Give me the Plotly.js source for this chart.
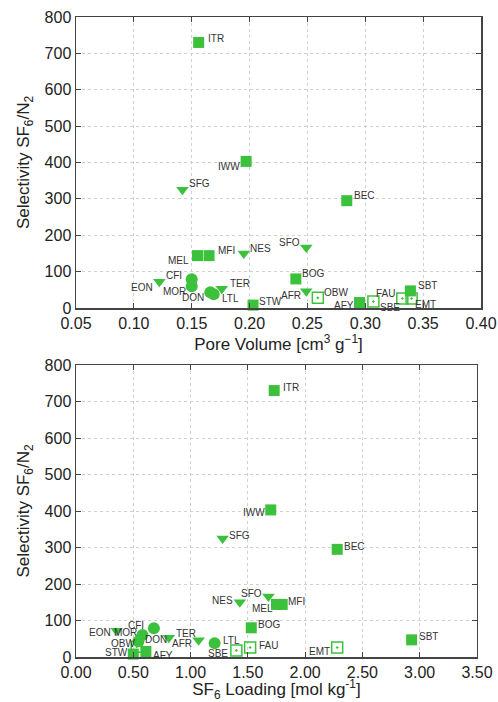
<!DOCTYPE html>
<html>
<head>
<meta charset="utf-8">
<script src="https://cdn.plot.ly/plotly-3.0.1.min.js"></script>
<style>html,body{margin:0;padding:0;background:#fff;}#chart{width:498px;height:702px;}</style>
</head>
<body>
<div id="chart"></div>
<script>
// Data
var names       = ['ITR','IWW','SFG','BEC','SFO','NES','MEL','MFI','BOG','CFI','EON','MOR','DON','TER','LTL','STW','AFR','OBW','AFY','SBE','FAU','EMT','SBT'];
var poreVolume  = [0.156,0.197,0.142,0.284,0.249,0.195,0.155,0.165,0.240,0.150,0.122,0.150,0.166,0.176,0.169,0.203,0.249,0.259,0.295,0.307,0.332,0.340,0.339];
var sf6Loading  = [1.73,1.70,1.28,2.28,1.68,1.43,1.75,1.80,1.53,0.68,0.355,0.58,0.545,0.81,1.21,0.50,1.07,0.53,0.61,1.40,1.52,2.28,2.93];
var selectivity = [730,403,325,295,166,150,144,144,80,79,72,60,43,53,38,8,46,28,15,18,26,26,47];
var markerKind  = ['sq','sq','tri','sq','tri','tri','sq','sq','sq','circ','tri','circ','circ','tri','circ','sq','tri','open','sq','open','open','open','sq'];

// label offsets in pixels [dx, dy(down)] (style)
var offTop = {ITR:[17,-4],IWW:[-17,5],SFG:[17,-6],BEC:[18,-5],SFO:[-17,-5],NES:[17,-5],MEL:[-19,5],MFI:[17,-5],BOG:[17,-5],CFI:[-18,-4],EON:[-17,6],MOR:[-17,5],DON:[-17,5],TER:[18,-5],LTL:[17,4],STW:[17,-4],AFR:[-15,4],OBW:[18,-5],AFY:[-16,3],SBE:[17,6],FAU:[-17,-5],EMT:[14,6],SBT:[17,-5]};
var offBot = {ITR:[17,-3],IWW:[-17,3],SFG:[17,-3],BEC:[17,-3],SFO:[-17,-3],NES:[-17,-2],MEL:[-14,4],MFI:[14,-3],BOG:[18,-3],CFI:[-18,-3],EON:[-17,2],MOR:[-17,-3],DON:[18,-2],TER:[17,-4],AFR:[-17,3],LTL:[17,-3],OBW:[-14,-3],STW:[-17,-2],AFY:[17,4],SBE:[-18,3],FAU:[18,-2],EMT:[-18,4],SBT:[17,-3]};

var green = '#3cc13c';
var styles = {
  sq:   {symbol:'square', size:11, color:green, line:{width:0}},
  tri:  {symbol:'triangle-down', size:11, color:green, line:{width:0}},
  circ: {symbol:'circle', size:12, color:green, line:{width:0}},
  open: {symbol:'square-open-dot', size:11, color:green, line:{width:1.5, color:green}}
};

var traces = [];
['sq','tri','circ','open'].forEach(function(kind){
  var idx = [];
  markerKind.forEach(function(k,i){ if(k===kind) idx.push(i); });
  var pick = function(arr){ return idx.map(function(i){return arr[i];}); };
  traces.push({x: pick(poreVolume), y: pick(selectivity), type:'scatter', mode:'markers',
    marker: styles[kind], xaxis:'x', yaxis:'y', cliponaxis:false, showlegend:false, hoverinfo:'skip'});
  traces.push({x: pick(sf6Loading), y: pick(selectivity), type:'scatter', mode:'markers',
    marker: styles[kind], xaxis:'x2', yaxis:'y2', cliponaxis:false, showlegend:false, hoverinfo:'skip'});
});

var labFont = {family:'Liberation Sans, Arial, sans-serif', size:10, color:'#333'};
var annotations = [];
names.forEach(function(n,i){
  annotations.push({x:poreVolume[i], y:selectivity[i], xref:'x', yref:'y', text:n, showarrow:false,
    xanchor:'center', yanchor:'middle', xshift:offTop[n][0], yshift:-offTop[n][1], font:labFont});
  annotations.push({x:sf6Loading[i], y:selectivity[i], xref:'x2', yref:'y2', text:n, showarrow:false,
    xanchor:'center', yanchor:'middle', xshift:offBot[n][0], yshift:-offBot[n][1], font:labFont});
});

var tickFont = {family:'Liberation Sans, Arial, sans-serif', size:16, color:'#222'};
var titleFont = {family:'Liberation Sans, Arial, sans-serif', size:17, color:'#222'};
function ax(extra){
  var base = {
    showline:true, mirror:'ticks', linecolor:'#444', linewidth:1.5,
    ticks:'inside', ticklen:5, tickcolor:'#444',
    showgrid:true, gridcolor:'#d0d0d0', griddash:'dot', gridwidth:1,
    zeroline:false, tickfont:tickFont
  };
  for (var k in extra) base[k]=extra[k];
  return base;
}

var layout = {
  width:498, height:702,
  margin:{l:76, r:17, t:17, b:45},
  paper_bgcolor:'#fff', plot_bgcolor:'#fff',
  font:{family:'Liberation Sans, Arial, sans-serif'},
  annotations: annotations,
  xaxis: ax({domain:[0,1], anchor:'y', range:[0.05,0.40], dtick:0.05, tickformat:'.2f',
    title:{text:'Pore Volume [cm<sup>3</sup> g<sup>−1</sup>]', font:titleFont, standoff:0}}),
  yaxis: ax({domain:[0.5453,1], anchor:'x', range:[0,800], dtick:100,
    title:{text:'Selectivity SF<sub>6</sub>/N<sub>2</sub>', font:titleFont, standoff:10}}),
  xaxis2: ax({domain:[0,0.99], anchor:'y2', range:[0,3.5], dtick:0.5, tickformat:'.2f',
    title:{text:'SF<sub>6</sub> Loading [mol kg<sup>-1</sup>]', font:titleFont, standoff:2}}),
  yaxis2: ax({domain:[0,0.45625], anchor:'x2', range:[0,800], dtick:100,
    title:{text:'Selectivity SF<sub>6</sub>/N<sub>2</sub>', font:titleFont, standoff:10}})
};

Plotly.newPlot('chart', traces, layout, {displayModeBar:false, staticPlot:true});
</script>
</body>
</html>
